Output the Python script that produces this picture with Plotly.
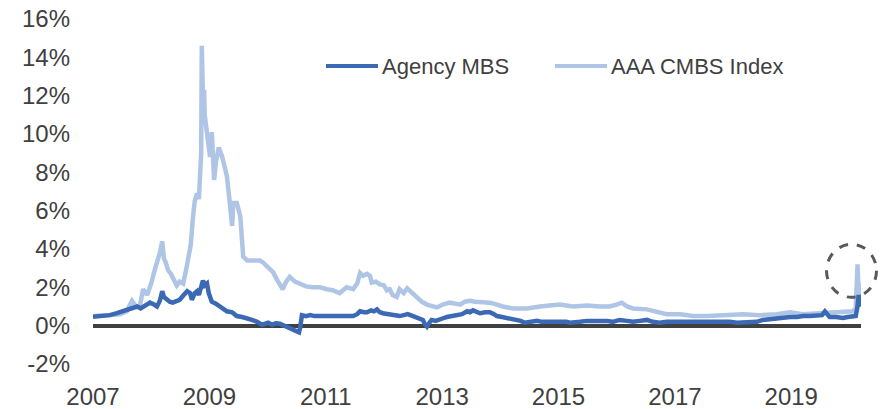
import pandas as pd
import plotly.graph_objects as go

# ---- data (decimal years, spread in %) ----
cmbs_t = [2007.00, 2007.12, 2007.29, 2007.46, 2007.58, 2007.67, 2007.74, 2007.81, 2007.86, 2007.93,
          2008.00, 2008.07, 2008.12, 2008.15, 2008.19, 2008.22, 2008.25, 2008.29, 2008.34, 2008.39,
          2008.44, 2008.49, 2008.55, 2008.60, 2008.63, 2008.68, 2008.72, 2008.75, 2008.79, 2008.82,
          2008.86, 2008.87, 2008.89, 2008.91, 2008.92, 2008.94, 2008.98, 2009.01, 2009.04, 2009.08,
          2009.11, 2009.16, 2009.22, 2009.27, 2009.30, 2009.35, 2009.39, 2009.41, 2009.47, 2009.53,
          2009.58, 2009.65, 2009.75, 2009.87, 2009.92, 2010.01, 2010.09, 2010.18, 2010.26, 2010.32,
          2010.38, 2010.47, 2010.56, 2010.66, 2010.78, 2010.90, 2011.02, 2011.12, 2011.24, 2011.36,
          2011.47, 2011.54, 2011.59, 2011.64, 2011.71, 2011.76, 2011.79, 2011.86, 2011.93, 2012.00,
          2012.05, 2012.10, 2012.15, 2012.22, 2012.27, 2012.34, 2012.40, 2012.48, 2012.57, 2012.65,
          2012.74, 2012.82, 2012.91, 2013.01, 2013.13, 2013.22, 2013.31, 2013.39, 2013.48, 2013.56,
          2013.65, 2013.82, 2013.94, 2014.04, 2014.22, 2014.46, 2014.68, 2014.85, 2015.02, 2015.25,
          2015.49, 2015.71, 2015.88, 2016.00, 2016.09, 2016.18, 2016.28, 2016.52, 2016.74, 2016.86,
          2017.09, 2017.31, 2017.55, 2017.72, 2017.82, 2018.17, 2018.46, 2018.75, 2018.98, 2019.20,
          2019.44, 2019.66, 2019.89, 2020.06, 2020.11, 2020.14, 2020.16, 2020.18, 2020.20]
cmbs_v = [0.5, 0.5, 0.55, 0.6, 0.75, 1.3, 1.0, 1.1, 1.9, 1.6,
          2.2, 3.0, 3.4, 3.8, 4.4, 3.5, 3.3, 2.9, 2.7, 2.4,
          2.1, 2.3, 2.2, 2.9, 3.3, 4.2, 5.7, 6.5, 6.9, 6.6,
          9.0, 14.6, 12.0, 12.3, 11.0, 10.6, 9.5, 8.8, 10.1, 7.6,
          8.5, 9.3, 8.8, 8.1, 7.8, 6.4, 5.2, 6.4, 6.4, 5.7,
          3.6, 3.4, 3.4, 3.4, 3.3, 3.0, 2.8, 2.3, 1.9, 2.3,
          2.55, 2.3, 2.15, 2.05, 2.0, 2.0, 1.9, 1.85, 1.7, 2.0,
          1.9, 2.2, 2.75, 2.6, 2.7, 2.6, 2.25, 2.3, 2.15, 2.1,
          1.85, 1.9, 1.6, 1.5, 1.9, 1.7, 1.95, 1.7, 1.45, 1.25,
          1.1, 1.0, 0.95, 1.1, 1.2, 1.15, 1.1, 1.25, 1.3, 1.25,
          1.25, 1.2, 1.1, 1.0, 0.9, 0.9, 1.0, 1.05, 1.1, 1.0,
          1.05, 1.0, 1.0, 1.1, 1.2, 1.0, 0.9, 0.85, 0.7, 0.6,
          0.6, 0.5, 0.5, 0.55, 0.55, 0.6, 0.55, 0.6, 0.7, 0.6,
          0.65, 0.7, 0.7, 0.75, 0.9, 3.2, 1.6, 2.2, 1.4]

mbs_t = [2007.00, 2007.12, 2007.29, 2007.41, 2007.52, 2007.64, 2007.76, 2007.82, 2007.89, 2007.98,
         2008.05, 2008.10, 2008.15, 2008.19, 2008.22, 2008.27, 2008.32, 2008.37, 2008.44, 2008.49,
         2008.56, 2008.62, 2008.67, 2008.70, 2008.75, 2008.79, 2008.82, 2008.86, 2008.89, 2008.92,
         2008.96, 2008.99, 2009.04, 2009.11, 2009.18, 2009.25, 2009.30, 2009.39, 2009.47, 2009.56,
         2009.65, 2009.73, 2009.82, 2009.90, 2009.96, 2010.01, 2010.08, 2010.14, 2010.21, 2010.28,
         2010.33, 2010.38, 2010.44, 2010.49, 2010.54, 2010.56, 2010.59, 2010.66, 2010.73, 2010.81,
         2010.90, 2010.99, 2011.07, 2011.19, 2011.30, 2011.38, 2011.47, 2011.54, 2011.59, 2011.66,
         2011.71, 2011.78, 2011.83, 2011.88, 2011.93, 2011.98, 2012.07, 2012.15, 2012.22, 2012.27,
         2012.34, 2012.41, 2012.50, 2012.57, 2012.64, 2012.67, 2012.70, 2012.74, 2012.77, 2012.82,
         2012.89, 2012.96, 2013.03, 2013.08, 2013.17, 2013.25, 2013.34, 2013.43, 2013.48, 2013.53,
         2013.60, 2013.65, 2013.74, 2013.82, 2013.89, 2013.94, 2014.03, 2014.11, 2014.20, 2014.29,
         2014.35, 2014.42, 2014.51, 2014.63, 2014.71, 2014.80, 2014.90, 2015.02, 2015.13, 2015.20,
         2015.25, 2015.37, 2015.49, 2015.59, 2015.71, 2015.83, 2015.93, 2016.05, 2016.18, 2016.28,
         2016.40, 2016.52, 2016.62, 2016.74, 2016.86, 2016.97, 2017.09, 2017.21, 2017.31, 2017.43,
         2017.55, 2017.65, 2017.72, 2017.82, 2017.94, 2018.07, 2018.17, 2018.29, 2018.41, 2018.51,
         2018.63, 2018.75, 2018.86, 2018.98, 2019.10, 2019.20, 2019.32, 2019.44, 2019.53, 2019.58,
         2019.63, 2019.66, 2019.77, 2019.89, 2019.97, 2020.06, 2020.11, 2020.14, 2020.16, 2020.18,
         2020.20]
mbs_v = [0.47, 0.5, 0.55, 0.65, 0.75, 0.85, 1.0, 0.9, 1.05, 1.2,
         1.1, 1.0, 1.3, 1.8, 1.5, 1.35, 1.25, 1.2, 1.3, 1.35,
         1.6, 1.8, 1.7, 1.35, 1.7, 1.8, 1.6, 2.0, 2.35, 2.1,
         2.2, 1.7, 1.25, 1.15, 1.0, 0.9, 0.75, 0.7, 0.5, 0.45,
         0.4, 0.3, 0.2, 0.05, 0.1, 0.15, 0.05, 0.12, 0.1, 0.0,
         -0.05, -0.1, -0.2, -0.25, -0.35, -0.1, 0.55, 0.5, 0.55, 0.5,
         0.5, 0.45, 0.5, 0.45, 0.45, 0.5, 0.5, 0.6, 0.75, 0.7,
         0.7, 0.8, 0.75, 0.85, 0.7, 0.65, 0.6, 0.55, 0.5, 0.5,
         0.55, 0.6, 0.5, 0.4, 0.35, 0.3, 0.1, -0.05, 0.1, 0.3,
         0.25, 0.3, 0.4, 0.45, 0.5, 0.5, 0.6, 0.75, 0.7, 0.8,
         0.7, 0.65, 0.7, 0.7, 0.6, 0.5, 0.45, 0.4, 0.35, 0.3,
         0.25, 0.15, 0.2, 0.25, 0.2, 0.2, 0.25, 0.2, 0.2, 0.15,
         0.15, 0.2, 0.25, 0.25, 0.3, 0.25, 0.2, 0.3, 0.25, 0.2,
         0.25, 0.3, 0.2, 0.15, 0.2, 0.2, 0.2, 0.2, 0.2, 0.2,
         0.2, 0.2, 0.25, 0.2, 0.2, 0.15, 0.15, 0.15, 0.2, 0.3,
         0.35, 0.4, 0.4, 0.45, 0.45, 0.5, 0.5, 0.5, 0.55, 0.75,
         0.6, 0.45, 0.45, 0.4, 0.45, 0.45, 0.5, 1.0, 1.6, 1.2,
         1.0]

series_names = ["Agency MBS", "AAA CMBS Index"]
y_ticks = [-2, 0, 2, 4, 6, 8, 10, 12, 14, 16]
x_ticks = [2007, 2009, 2011, 2013, 2015, 2017, 2019]


def to_dates(dec_years):
    out = []
    for d in dec_years:
        yr = int(d)
        start = pd.Timestamp(year=yr, month=1, day=1)
        out.append(start + pd.Timedelta(days=(d - yr) * 365.25))
    return out


mbs_dates = to_dates(mbs_t)
cmbs_dates = to_dates(cmbs_t)

DARK = "#3C69B3"
LIGHT = "#AEC5E5"
TXT = "#404040"
FONT = "Liberation Sans, Arial, sans-serif"

W, H = 883, 409
ML, MR, MT, MB = 93, 22, 19, 45
Y_RANGE = [-2, 16]

x_start = pd.Timestamp("2007-01-01")
x_end = max(mbs_dates[-1], cmbs_dates[-1])

fig = go.Figure()
fig.add_trace(go.Scatter(x=cmbs_dates, y=cmbs_v, mode="lines", name=series_names[1],
                         line=dict(color=LIGHT, width=4.5), showlegend=False))
fig.add_trace(go.Scatter(x=mbs_dates, y=mbs_v, mode="lines", name=series_names[0],
                         line=dict(color=DARK, width=4.5), showlegend=False))

# dashed circle around the 2020 spike (anchored on the data spike, paper coords so not clipped)
recent = [i for i, d in enumerate(cmbs_dates) if d.year >= 2020]
i_max = max(recent, key=lambda i: cmbs_v[i])
ax_paper = (cmbs_dates[i_max] - x_start) / (x_end - x_start)
ay_paper = (cmbs_v[i_max] - Y_RANGE[0]) / (Y_RANGE[1] - Y_RANGE[0])
fig.add_shape(type="circle", xref="paper", yref="paper", xsizemode="pixel", ysizemode="pixel",
              xanchor=ax_paper, yanchor=ay_paper,
              x0=-31, x1=19, y0=-33, y1=20,
              line=dict(color="#595959", width=3, dash="dash"))

# manual legend
pw = W - ML - MR
ph = H - MT - MB
def px_x(p):
    return (p - ML) / pw
def px_y(p):
    return (H - MB - p) / ph

leg_items = [(series_names[0], DARK, 326), (series_names[1], LIGHT, 555)]
for name, col, x0 in leg_items:
    fig.add_shape(type="line", xref="paper", yref="paper",
                  x0=px_x(x0), x1=px_x(x0 + 52), y0=px_y(66), y1=px_y(66),
                  line=dict(color=col, width=4))
    fig.add_annotation(xref="paper", yref="paper", x=px_x(x0 + 54), y=px_y(66),
                       text=name, showarrow=False, xanchor="left", yanchor="middle",
                       font=dict(size=22, color=TXT, family=FONT))

fig.update_layout(
    width=W, height=H,
    margin=dict(l=ML, r=MR, t=MT, b=MB, autoexpand=False),
    paper_bgcolor="white", plot_bgcolor="white",
    font=dict(family=FONT, color=TXT, size=24),
    showlegend=False,
    xaxis=dict(
        type="date",
        range=[x_start, x_end],
        tickvals=[pd.Timestamp(year=y, month=1, day=1) for y in x_ticks],
        ticktext=[str(y) for y in x_ticks],
        showgrid=False, zeroline=False, showline=False, ticks="",
        tickfont=dict(size=24, color=TXT, family=FONT),
        ticklabelstandoff=16, automargin=False,
    ),
    yaxis=dict(
        range=Y_RANGE,
        tickvals=y_ticks,
        ticktext=[f"{v}%" for v in y_ticks],
        showgrid=False, showline=False, ticks="",
        zeroline=True, zerolinecolor="#404040", zerolinewidth=4,
        tickfont=dict(size=24, color=TXT, family=FONT),
        ticklabelstandoff=22, automargin=False,
    ),
)

fig.write_html("out.html",
               config={"displayModeBar": False},
               post_script="document.body.style.margin='0px';document.body.style.overflow='hidden';")
